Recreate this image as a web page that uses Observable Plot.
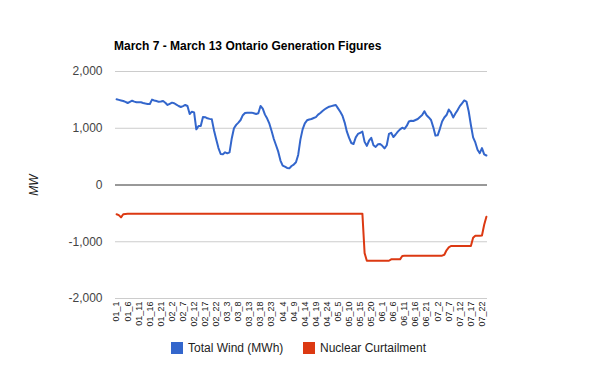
<!DOCTYPE html>
<html><head><meta charset="utf-8">
<script src="https://cdn.jsdelivr.net/npm/d3@7"></script>
<script src="https://cdn.jsdelivr.net/npm/@observablehq/plot@0.6"></script>
<style>
body{margin:0;background:#fff;font-family:Arial,"Liberation Sans",sans-serif;}
#wrap{position:relative;width:600px;height:371px;overflow:hidden;}
#title{position:absolute;left:114px;top:40px;font-size:12px;line-height:12px;font-weight:bold;color:#000;white-space:nowrap;}
#ylab{position:absolute;left:34px;top:185px;font-size:12px;font-style:italic;color:#222;transform:translate(-50%,-50%) rotate(-90deg);white-space:nowrap;}
.sw{position:absolute;width:12px;height:12px;top:342px;}
.lt{position:absolute;top:341px;font-size:12px;line-height:14px;color:#222;white-space:nowrap;}
svg{position:absolute;left:0;top:0;}
</style></head>
<body><div id="wrap">
<div id="title"></div>
<div id="ylab"></div>
<div id="legend"></div>
</div>
<script>
const titleText = "March 7 - March 13 Ontario Generation Figures";
const yAxisLabel = "MW";
const seriesNames = ["Total Wind (MWh)", "Nuclear Curtailment"];
const seriesColors = ["#3366cc", "#dc3912"];
const days = ["01","02","03","04","05","06","07"];
const hours = [1,2,3,4,5,6,7,8,9,10,11,12,13,14,15,16,17,18,19,20,21,22,23,24];
const yTicks = [-2000, -1000, 0, 1000, 2000];

const totalWind = [
  1510,1500,1490,1480,1465,1445,1465,1485,1470,1457,1460,1457,1445,1435,1427,1427,1504,1490,1480,1465,1470,1480,1450,1410,
  1430,1451,1440,1415,1392,1375,1390,1410,1392,1251,1292,1280,981,1040,1040,1200,1195,1175,1165,1157,960,800,650,546,
  540,576,558,576,820,1000,1060,1100,1145,1230,1270,1275,1275,1275,1265,1251,1263,1392,1345,1240,1170,1080,950,810,
  700,587,430,340,323,300,294,335,360,400,529,800,980,1087,1140,1155,1163,1180,1195,1240,1270,1305,1335,1360,
  1380,1390,1400,1410,1350,1290,1220,1100,940,830,740,722,840,900,920,940,760,690,780,830,700,670,717,722,
  690,646,700,900,920,845,890,940,980,1010,990,1040,1120,1132,1128,1145,1163,1200,1233,1300,1230,1190,1145,1020,
  870,875,990,1120,1190,1233,1330,1280,1190,1260,1320,1390,1440,1490,1470,1300,1057,840,750,620,560,650,540,520
];
const nuclearCurtailment = [
  -515,-530,-570,-515,-510,-508,-508,-508,-506,-505,-505,-505,-505,-505,-505,-505,-505,-505,-505,-505,-505,-505,-505,-505,
  -505,-505,-505,-505,-505,-505,-505,-505,-505,-505,-505,-505,-505,-505,-505,-505,-505,-505,-505,-505,-505,-505,-505,-505,
  -505,-505,-505,-505,-505,-505,-505,-505,-505,-505,-505,-505,-505,-505,-505,-505,-505,-505,-505,-505,-505,-505,-505,-505,
  -505,-505,-505,-505,-505,-505,-505,-505,-505,-505,-505,-505,-505,-505,-505,-505,-505,-505,-505,-505,-505,-505,-505,-505,
  -505,-505,-505,-505,-505,-505,-505,-505,-505,-505,-505,-505,-505,-505,-505,-505,-1200,-1335,-1335,-1335,-1335,-1335,-1335,-1335,
  -1335,-1335,-1335,-1335,-1310,-1310,-1310,-1310,-1310,-1250,-1245,-1245,-1245,-1245,-1245,-1245,-1245,-1245,-1245,-1245,-1245,-1245,-1245,-1245,
  -1245,-1245,-1245,-1245,-1230,-1150,-1100,-1075,-1075,-1075,-1075,-1075,-1075,-1075,-1075,-1075,-1075,-930,-895,-893,-893,-890,-700,-560
];

const categories = days.flatMap(d => hours.map(h => `${d}_${h}`));
const data = categories.flatMap((c, i) => [
  {cat: c, v: totalWind[i], s: seriesNames[0]},
  {cat: c, v: nuclearCurtailment[i], s: seriesNames[1]}
]);
const xTicks = categories.filter((d, i) => i % 5 === 0);

const chart = Plot.plot({
  width: 600, height: 371,
  marginTop: 71, marginBottom: 73, marginLeft: 115, marginRight: 113,
  style: {fontFamily: "Arial, 'Liberation Sans', sans-serif", background: "transparent"},
  x: {type: "point", domain: categories, padding: 0.5},
  y: {domain: [-2000, 2000]},
  color: {domain: seriesNames, range: seriesColors},
  marks: [
    Plot.ruleY(yTicks.filter(d => d !== 0), {stroke: "#cccccc", strokeWidth: 1}),
    Plot.ruleY([0], {stroke: "#333333", strokeWidth: 1}),
    Plot.line(data, {x: "cat", y: "v", z: "s", stroke: "s", strokeWidth: 2}),
    Plot.axisY({ticks: yTicks, tickSize: 0, tickPadding: 13, fontSize: 12, fill: "#444", label: null,
      tickFormat: d => d.toLocaleString("en-US")}),
    Plot.axisX({ticks: xTicks, tickRotate: -90, tickSize: 0, tickPadding: 3, fontSize: 9, fill: "#222", label: null})
  ]
});
document.getElementById("wrap").appendChild(chart);
document.getElementById("title").textContent = titleText;
document.getElementById("ylab").textContent = yAxisLabel;

const legend = document.getElementById("legend");
const swX = [171, 303];
const txX = [188, 320];
seriesNames.forEach((n, i) => {
  const sw = document.createElement("div");
  sw.className = "sw"; sw.style.left = swX[i] + "px"; sw.style.background = seriesColors[i];
  const t = document.createElement("div");
  t.className = "lt"; t.style.left = txX[i] + "px"; t.textContent = n;
  legend.appendChild(sw); legend.appendChild(t);
});
</script>
</body></html>
